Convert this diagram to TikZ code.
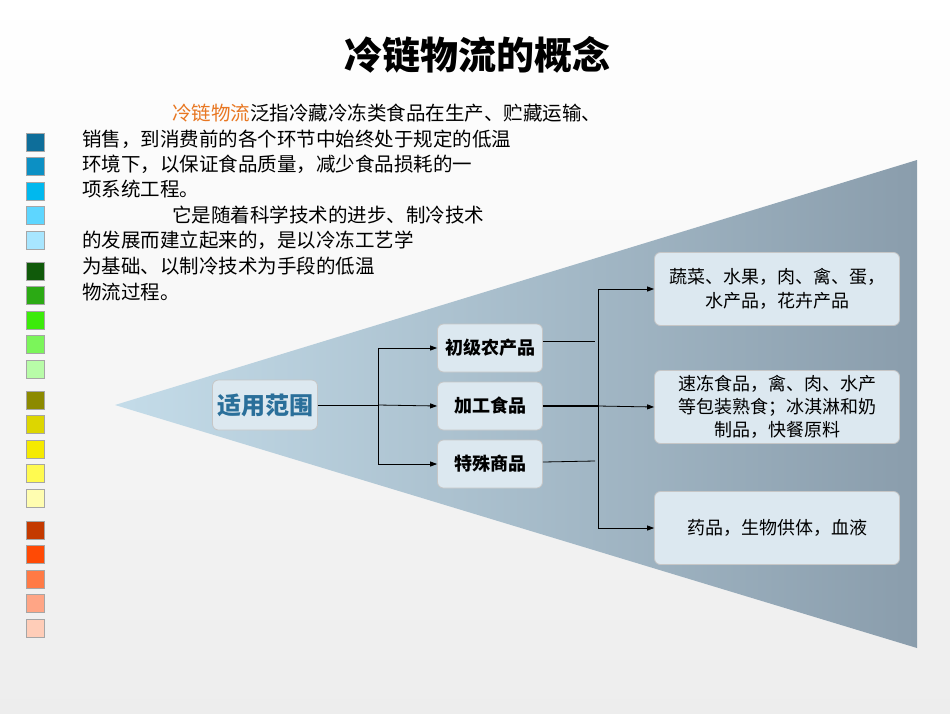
\documentclass[tikz,border=0pt]{standalone}
\usepackage{fontspec}
\newfontfamily\cjk{Noto Sans CJK SC}
\usetikzlibrary{arrows.meta}
\definecolor{boxfill}{HTML}{DCE8F0}
\definecolor{titleblue}{HTML}{2A6F9A}
\definecolor{orng}{HTML}{E87722}
\definecolor{triL}{HTML}{C4DCE9}
\definecolor{triR}{HTML}{8A9DAC}
\tikzset{
  box/.style={draw=gray!45,fill=boxfill,rounded corners=6pt,line width=0.8pt,inner sep=0pt,align=center,font=\cjk\fontsize{18}{24}\selectfont},
  conn/.style={line width=0.8pt,-{Triangle[length=7pt,width=5pt]}},
  plain/.style={line width=0.8pt},
  sq/.style={draw=gray!70,line width=0.8pt,minimum size=18pt,inner sep=0pt},
  para/.style={anchor=west,inner sep=0pt,font=\cjk\fontsize{19.5}{19.5}\selectfont}
}
\begin{document}
\begin{tikzpicture}[x=1pt,y=-1pt]
\shade[top color=white,bottom color=gray!14] (0,0) rectangle (950,713);
\useasboundingbox (0,0) rectangle (950,713);
\shade[left color=triL,right color=triR] (115,405) -- (917,160) -- (917,648) -- cycle;
\node[font=\cjk\bfseries\fontsize{38}{38}\selectfont] (title) at (477,55) {冷链物流的概念};
\node[para] (p1) at (172,113) {\textcolor{orng}{冷链物流}泛指冷藏冷冻类食品在生产、贮藏运输、};
\node[para] (p2) at (82,139) {销售，到消费前的各个环节中始终处于规定的低温};
\node[para] (p3) at (82,164) {环境下，以保证食品质量，减少食品损耗的一};
\node[para] (p4) at (82,189) {项系统工程。};
\node[para] (p5) at (172,215) {它是随着科学技术的进步、制冷技术};
\node[para] (p6) at (82,240) {的发展而建立起来的，是以冷冻工艺学};
\node[para] (p7) at (82,266) {为基础、以制冷技术为手段的低温};
\node[para] (p8) at (82,292) {物流过程。};
% squares
\foreach \c [count=\i] in {0E6E9A,0C90C4,00B8EE,5ED6FF,A8E6FF}
  {\definecolor{tmp}{HTML}{\c}\node[sq,fill=tmp] (sa\i) at (35,{142+24.6*(\i-1)}) {};}
\foreach \c [count=\i] in {105A0A,2BAA14,3CEB0A,7BF55A,B8FCA8}
  {\definecolor{tmp}{HTML}{\c}\node[sq,fill=tmp] (sb\i) at (35,{271+24.6*(\i-1)}) {};}
\foreach \c [count=\i] in {8C8A00,DDD600,F5EA00,FFFA50,FFFDB0}
  {\definecolor{tmp}{HTML}{\c}\node[sq,fill=tmp] (sc\i) at (35,{400+24.6*(\i-1)}) {};}
\foreach \c [count=\i] in {C43A00,FF4A05,FF7A45,FFA585,FFCDB8}
  {\definecolor{tmp}{HTML}{\c}\node[sq,fill=tmp] (sd\i) at (35,{530+24.6*(\i-1)}) {};}
% boxes
\node[box,minimum width=105pt,minimum height=50pt,text=titleblue,font=\cjk\bfseries\fontsize{24}{24}\selectfont] (scope) at (265,405) {适用范围};
\node[box,minimum width=105pt,minimum height=48pt,font=\cjk\bfseries\fontsize{18}{18}\selectfont] (b1) at (490,348) {初级农产品};
\node[box,minimum width=105pt,minimum height=48pt,font=\cjk\bfseries\fontsize{18}{18}\selectfont] (b2) at (490,406) {加工食品};
\node[box,minimum width=105pt,minimum height=48pt,font=\cjk\bfseries\fontsize{18}{18}\selectfont] (b3) at (490,464) {特殊商品};
\node[box,minimum width=245pt,minimum height=73pt] (r1) at (777,289) {蔬菜、水果，肉、禽、蛋，\\水产品，花卉产品};
\node[box,minimum width=245pt,minimum height=73pt,font=\cjk\fontsize{18}{23}\selectfont] (r2) at (777,407) {速冻食品，禽、肉、水产\\等包装熟食；冰淇淋和奶\\制品，快餐原料};
\node[box,minimum width=245pt,minimum height=73pt] (r3) at (777,528) {药品，生物供体，血液};
% connectors
\coordinate (j1) at (378,405);
\draw[plain] (scope.east) -- (j1);
\draw[conn] (j1) |- (b1.west);
\draw[conn] (j1) -- (b2.west);
\draw[conn] (j1) |- (b3.west);
\coordinate (j2) at (598,406);
\draw[plain] (b1.east|-0,341) -- (595,341);
\draw[line width=2pt] (b2.east) -- (j2);
\draw[plain] (b3.east|-0,462) -- (595,461);
\draw[conn] (j2) |- (r1.west);
\draw[conn] (j2) -- (r2.west);
\draw[conn] (j2) |- (r3.west);
\end{tikzpicture}
\end{document}
